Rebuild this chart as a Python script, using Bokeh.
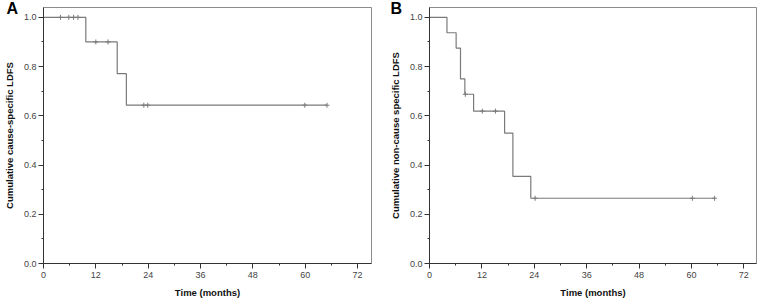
from bokeh.plotting import figure
from bokeh.layouts import row
from bokeh.models import Range1d, SingleIntervalTicker, PrintfTickFormatter, Title
from bokeh.embed import file_html
from bokeh.resources import INLINE

# ---- data ----
x_ticks_interval = 12
a_time = [0, 9.7, 16.9, 19.0, 65.0]
a_surv = [1.0, 0.9, 0.771, 0.643, 0.643]
a_cens_time = [3.9, 5.8, 6.9, 7.9, 12.0, 14.8, 23.0, 23.9, 59.9, 65.0]
a_cens_surv = [1.0, 1.0, 1.0, 1.0, 0.9, 0.9, 0.643, 0.643, 0.643, 0.643]

b_time = [0, 4.0, 6.1, 7.1, 8.1, 10.1, 17.2, 19.1, 23.2, 65.3]
b_surv = [1.0, 0.9375, 0.875, 0.75, 0.6875, 0.619, 0.530, 0.354, 0.265, 0.265]
b_cens_time = [8.2, 12.1, 15.1, 24.2, 60.2, 65.3]
b_cens_surv = [0.6875, 0.619, 0.619, 0.265, 0.265, 0.265]

FONT = "Liberation Sans"
CURVE = "#7a7a7a"


def make_panel(letter, ylabel, t, s, ct, cs, width, left, right, xmax, letter_offset):
    p = figure(width=width, height=300, output_backend="svg", toolbar_location=None,
               x_range=Range1d(0, xmax), y_range=Range1d(0, 1.04),
               min_border_left=left, min_border_right=right,
               min_border_top=7, min_border_bottom=37)
    p.grid.visible = False
    p.outline_line_color = "#8c8c8c"
    p.background_fill_color = "white"
    p.border_fill_color = "white"

    p.step(t, s, mode="after", line_color=CURVE, line_width=1.2)
    p.scatter(ct, cs, marker="cross", size=5, line_color=CURVE, line_width=1)

    xa = p.xaxis[0]
    xa.ticker = SingleIntervalTicker(interval=x_ticks_interval, num_minor_ticks=2)
    xa.axis_label = "Time (months)"
    ya = p.yaxis[0]
    ya.ticker = SingleIntervalTicker(interval=0.2, num_minor_ticks=2)
    ya.formatter = PrintfTickFormatter(format="%.1f")
    ya.axis_label = ylabel
    for ax in (xa, ya):
        ax.axis_line_color = "#333333"
        ax.major_tick_line_color = "#333333"
        ax.minor_tick_line_color = "#333333"
        ax.major_tick_out = 5
        ax.major_tick_in = 0
        ax.minor_tick_out = 2
        ax.minor_tick_in = 0
        ax.major_label_text_font = FONT
        ax.major_label_text_font_size = "9px"
        ax.major_label_text_color = "#444444"
        ax.axis_label_text_font = FONT
        ax.axis_label_text_font_size = "9.5px"
        ax.axis_label_text_font_style = "bold"
        ax.axis_label_text_color = "#111111"
    xa.major_label_standoff = 3
    xa.axis_label_standoff = 6
    ya.major_label_standoff = 2
    ya.axis_label_standoff = 6

    p.title = Title(text=letter, align="left", offset=letter_offset, standoff=-18,
                    vertical_align="bottom",
                    text_font=FONT, text_font_size="16px", text_font_style="bold",
                    text_color="black", text_line_height=1.0)
    return p


pa = make_panel("A", "Cumulative cause-specific LDFS", a_time, a_surv,
                a_cens_time, a_cens_surv, 383, 41, 12, 75.2, -37)
pb = make_panel("B", "Cumulative non-cause specific LDFS", b_time, b_surv,
                b_cens_time, b_cens_surv, 382, 46, 9, 74.9, -39)

layout = row(pa, pb)
open("out.html", "w").write(file_html(layout, INLINE))
